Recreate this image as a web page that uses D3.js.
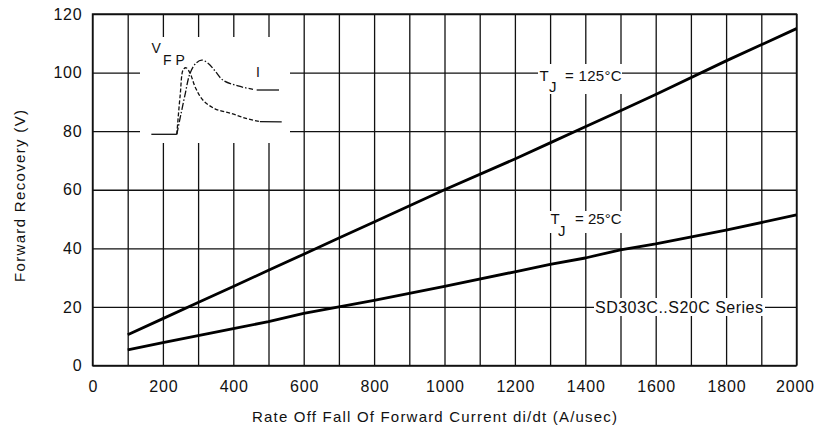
<!DOCTYPE html>
<html>
<head>
<meta charset="utf-8">
<script src="https://cdn.jsdelivr.net/npm/d3@7"></script>
<style>
  html, body { margin: 0; padding: 0; background: #fff; }
  svg { display: block; }
  text { font-family: "Liberation Sans", Arial, sans-serif; fill: #111; }
</style>
</head>
<body>
<script>
// forward recovery vs di/dt
var rate = [100, 200, 300, 400, 500, 600, 700, 800, 1000, 1200, 1300, 1400, 1500, 1600, 1800, 2000];
var vfp125 = [10.5, 16, 21.5, 27, 32.5, 38, 43.5, 49, 60, 70.5, 76, 81.5, 87, 92.5, 104, 115];
var vfp25 = [5.3, 7.8, 10.2, 12.6, 15, 17.8, 20, 22.2, 27, 32, 34.5, 36.7, 39.5, 41.5, 46.2, 51.4];

var xTicks = [0, 200, 400, 600, 800, 1000, 1200, 1400, 1600, 1800, 2000];
var yTicks = [0, 20, 40, 60, 80, 100, 120];

// inset sketch (schematic, 0..100 local units)
var insetBase = [[1, 0], [20, 0]];
var insetVolt = [[20, 0], [22.5, 50], [24.9, 84], [27, 86], [29.9, 79], [34, 60], [39.6, 44], [48.5, 33], [59.7, 27.5], [70.9, 21], [82, 16.3]];
var insetVoltTail = [[82, 16.3], [98.3, 16]];
var insetCurr = [[20, 0], [26, 50], [29.9, 79], [34.3, 92], [38.6, 96], [43.3, 92], [48.5, 82], [54.5, 70], [65.7, 62.5], [76.9, 58.2]];
var insetCurrTail = [[79.6, 57.3], [96.3, 57.3]];

var W = 814, H = 428;
var m = { left: 92.5, right: 796.5, top: 14, bottom: 365.5 };

var svg = d3.select('body').append('svg').attr('width', W).attr('height', H);

var x = d3.scaleLinear().domain([0, 2000]).range([m.left, m.right]);
var y = d3.scaleLinear().domain([0, 120]).range([m.bottom, m.top]);

// grid
var gx = svg.append('g').attr('transform', 'translate(0,' + m.bottom + ')')
  .call(d3.axisBottom(x).tickValues(d3.range(0, 2001, 100)).tickSize(-(m.bottom - m.top)).tickFormat(''));
var gy = svg.append('g').attr('transform', 'translate(' + m.left + ',0)')
  .call(d3.axisLeft(y).tickValues(d3.range(0, 121, 20)).tickSize(-(m.right - m.left)).tickFormat(''));
[gx, gy].forEach(function (g) {
  g.select('.domain').remove();
  g.selectAll('line').attr('stroke', '#111').attr('stroke-width', 1.3);
});
svg.append('rect')
  .attr('x', m.left).attr('y', m.top)
  .attr('width', m.right - m.left).attr('height', m.bottom - m.top)
  .attr('fill', 'none').attr('stroke', '#111').attr('stroke-width', 1.4);

// white patches behind labels
var patches = [[140, 37, 150, 106], [538, 64, 84, 30], [549, 211, 74, 22], [594, 298, 171, 18]];
svg.selectAll('rect.patch').data(patches).enter().append('rect')
  .attr('class', 'patch')
  .attr('x', function (d) { return d[0]; }).attr('y', function (d) { return d[1]; })
  .attr('width', function (d) { return d[2]; }).attr('height', function (d) { return d[3]; })
  .attr('fill', '#fff');

// tick labels
var ax = svg.append('g').attr('transform', 'translate(0,' + m.bottom + ')')
  .call(d3.axisBottom(x).tickValues(xTicks).tickFormat(d3.format('d')).tickSize(0).tickPadding(15));
var ay = svg.append('g').attr('transform', 'translate(' + m.left + ',0)')
  .call(d3.axisLeft(y).tickValues(yTicks).tickFormat(d3.format('d')).tickSize(0).tickPadding(10));
[ax, ay].forEach(function (g) {
  g.select('.domain').remove();
  g.selectAll('text')
    .attr('font-family', '"Liberation Sans", Arial, sans-serif')
    .attr('font-size', 16).attr('letter-spacing', 0.8).attr('fill', '#111');
});
ax.selectAll('text').attr('dx', '0.4');
// last label sits flush with the right edge, as in the source
ax.selectAll('text').filter(function (d) { return d === 2000; })
  .attr('text-anchor', 'end').attr('dx', null).attr('x', 813.5 - x(2000) + 0.8);

// curves
var line = d3.line().x(function (d, i) { return x(rate[i]); }).y(function (d) { return y(d); });
[vfp125, vfp25].forEach(function (s) {
  svg.append('path').attr('d', line(s))
    .attr('fill', 'none').attr('stroke', '#000').attr('stroke-width', 2.8)
    .attr('stroke-linejoin', 'round');
});

// inset
var ix = d3.scaleLinear().domain([0, 100]).range([150, 284]);
var iy = d3.scaleLinear().domain([0, 100]).range([134.3, 57]);
var iLine = d3.line().x(function (d) { return ix(d[0]); }).y(function (d) { return iy(d[1]); });
var iCurve = d3.line().curve(d3.curveCatmullRom).x(function (d) { return ix(d[0]); }).y(function (d) { return iy(d[1]); });
function insetPath(d, gen, dash) {
  svg.append('path').attr('d', gen(d)).attr('fill', 'none')
    .attr('stroke', '#111').attr('stroke-width', 1.3)
    .attr('stroke-dasharray', dash);
}
insetPath(insetBase, iLine, null);
insetPath(insetVolt, iCurve, '4,2');
insetPath(insetVoltTail, iLine, null);
insetPath(insetCurr, iCurve, '7,2,1.5,2');
insetPath(insetCurrTail, iLine, null);

function label(txt, px, py, size, len) {
  var t = svg.append('text').attr('x', px).attr('y', py).attr('font-size', size).text(txt);
  if (len) t.attr('textLength', len).attr('lengthAdjust', 'spacing');
  return t;
}
label('V', 151.5, 53.3, 14);
label('F', 163, 65, 14);
label('P', 175.5, 65, 14);
label('I', 256, 76.7, 14);

label('T', 539.5, 80.7, 15);
label('J', 549, 92, 15);
label('= 125°C', 565, 80.7, 15, 56.5);

label('T', 550.5, 224.3, 15);
label('J', 558, 235.5, 15);
label('= 25°C', 575, 224.3, 15, 46.5);

label('SD303C..S20C Series', 595, 313.3, 16, 168);

// axis titles
label('Rate Off Fall Of Forward Current di/dt (A/usec)', 252, 421.5, 15, 365);
svg.append('text')
  .attr('transform', 'translate(24.5,196) rotate(-90)')
  .attr('text-anchor', 'middle').attr('font-size', 15)
  .attr('textLength', 172).attr('lengthAdjust', 'spacing')
  .text('Forward Recovery (V)');
</script>
</body>
</html>
